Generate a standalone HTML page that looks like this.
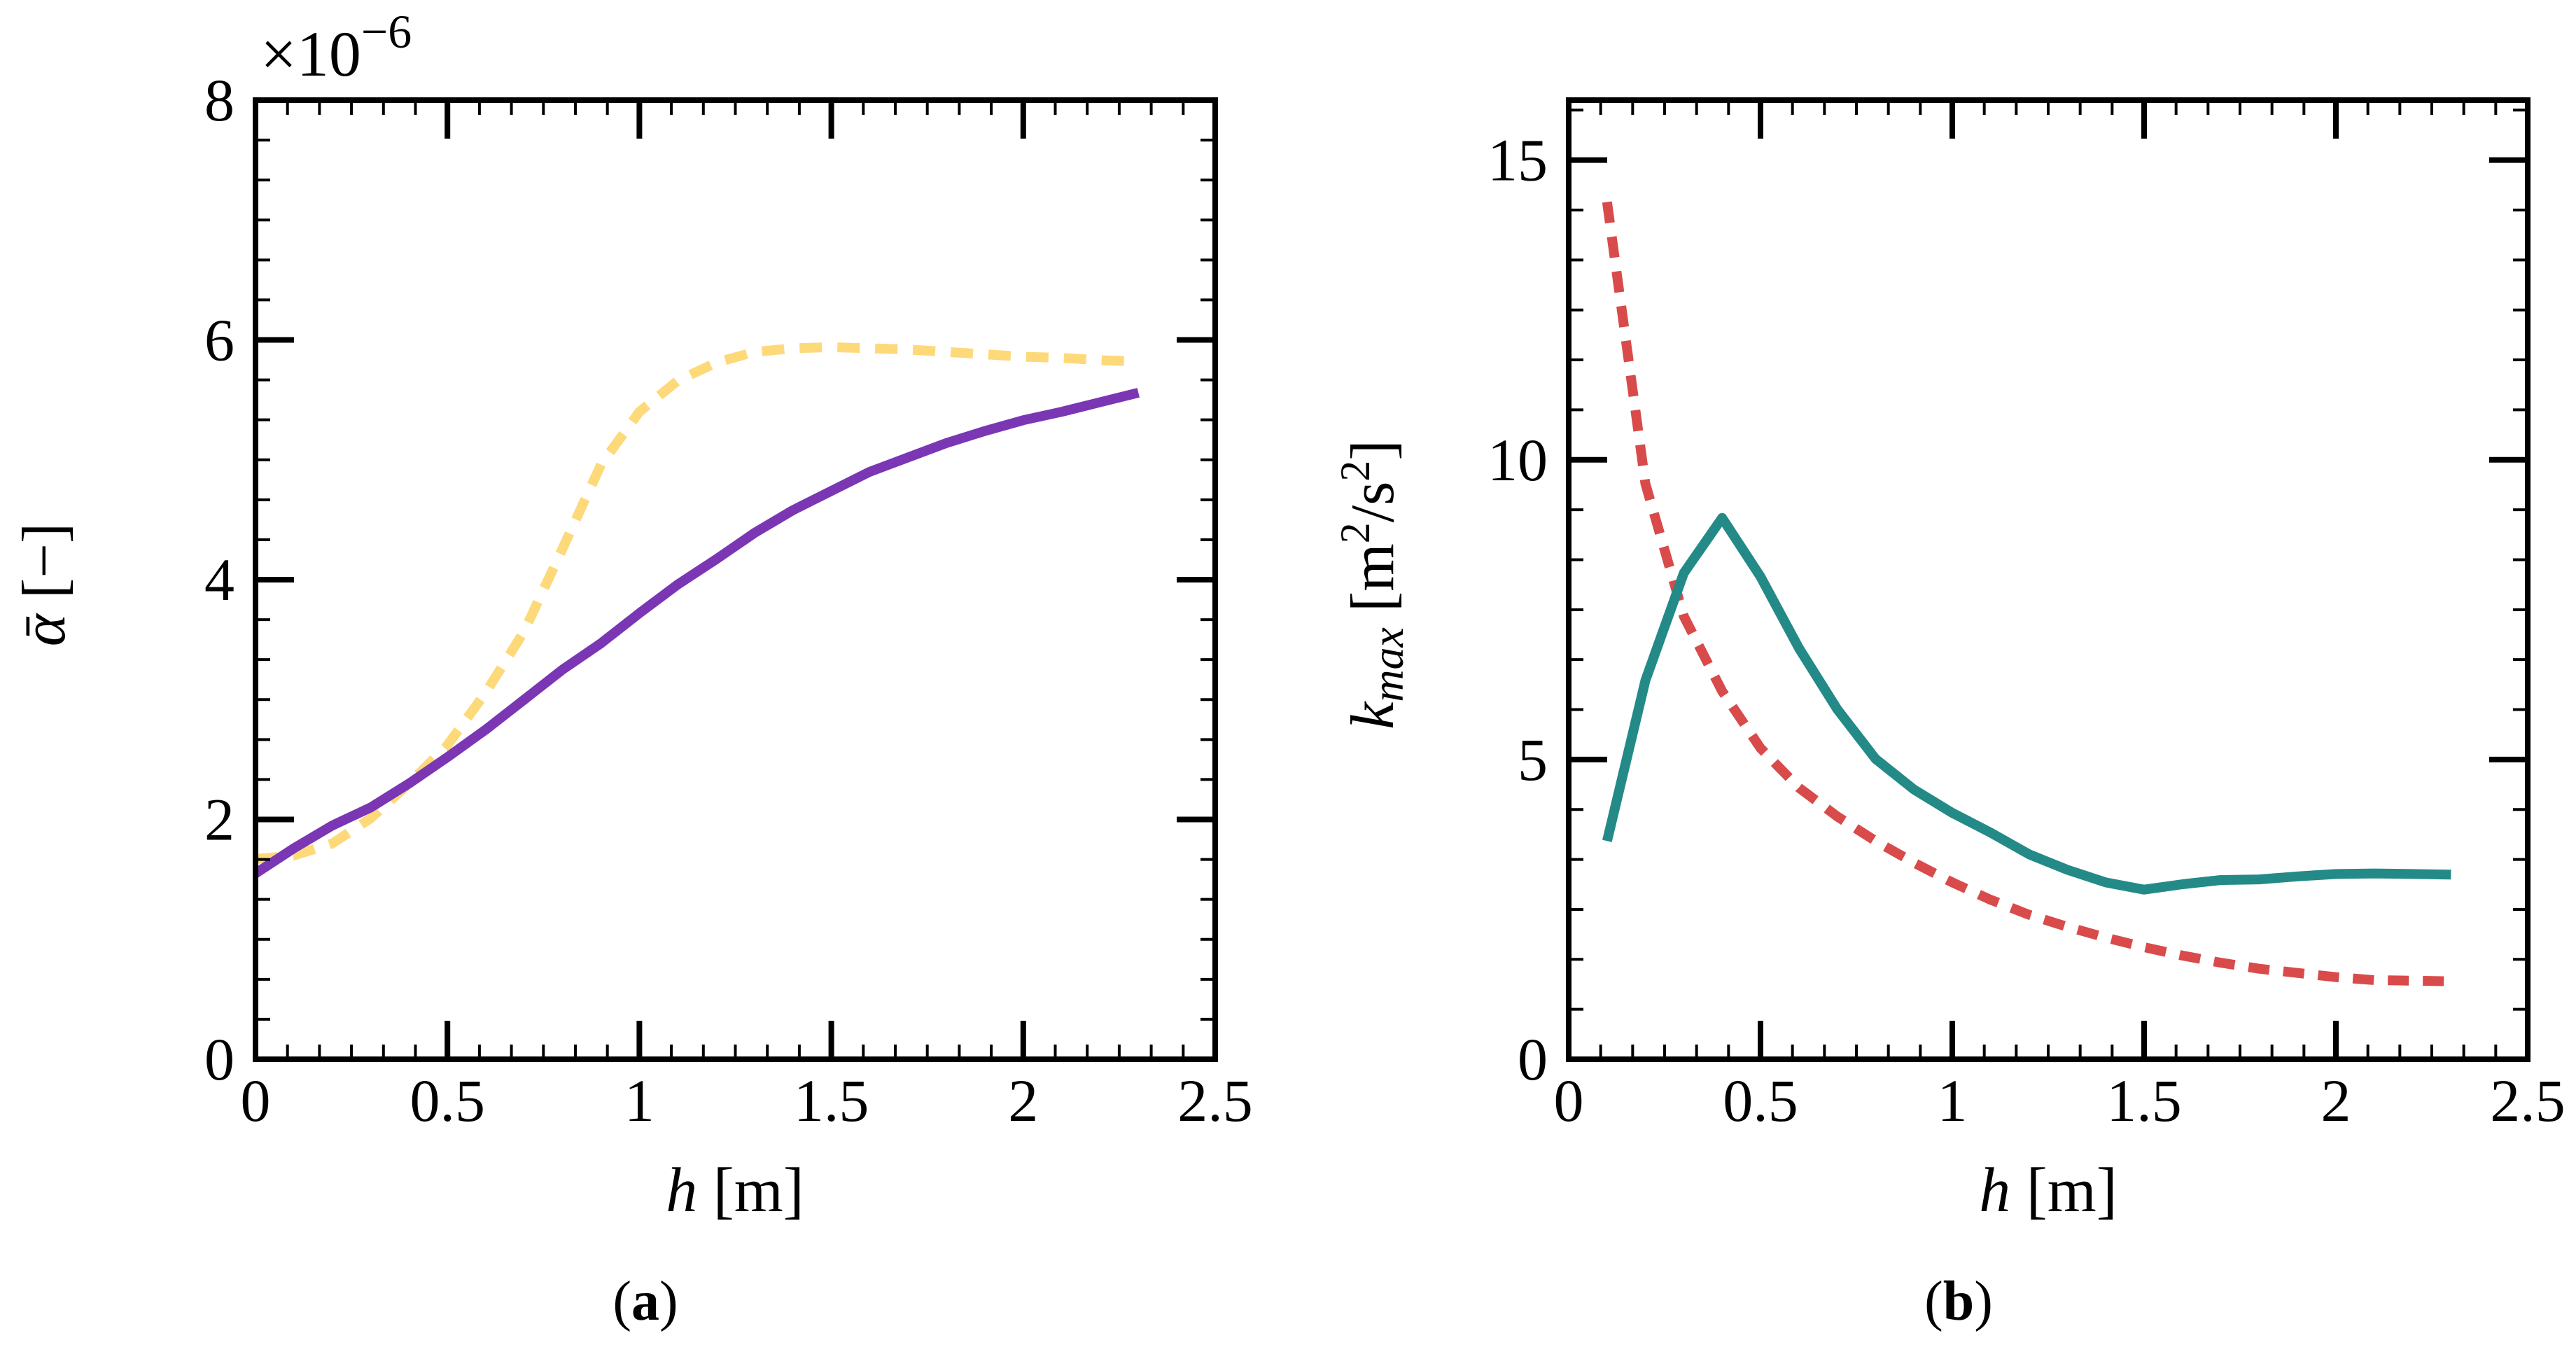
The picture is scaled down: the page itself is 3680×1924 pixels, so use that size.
<!DOCTYPE html>
<html><head><meta charset="utf-8"><style>
html,body{margin:0;padding:0;background:#fff;}
svg{display:block;}
text{font-family:"Liberation Serif",serif;fill:#000;}
</style></head><body>
<svg id="fig" width="3680" height="1924" viewBox="0 0 3680 1924" xmlns="http://www.w3.org/2000/svg">
<g id="pa"></g>
<g id="pb"></g>
<text x="372" y="108" font-size="92">×10<tspan font-size="68" dy="-40">−6</tspan></text>
<text transform="translate(92,835) rotate(-90)" text-anchor="middle" font-size="88"><tspan font-style="italic">ᾱ</tspan> [−]</text>
<text x="1050" y="1730" text-anchor="middle" font-size="90"><tspan font-style="italic">h</tspan> [m]</text>
<text x="922" y="1885" text-anchor="middle" font-size="80">(<tspan font-weight="bold">a</tspan>)</text>
<text transform="translate(1990,835) rotate(-90)" text-anchor="middle" font-size="88"><tspan font-style="italic">k<tspan font-size="64" dy="14">max</tspan></tspan><tspan dy="-14"> [m</tspan><tspan font-size="60" dy="-34">2</tspan><tspan dy="34">/s</tspan><tspan font-size="60" dy="-34">2</tspan><tspan dy="34">]</tspan></text>
<text x="2926" y="1730" text-anchor="middle" font-size="90"><tspan font-style="italic">h</tspan> [m]</text>
<text x="2798" y="1885" text-anchor="middle" font-size="80">(<tspan font-weight="bold">b</tspan>)</text>
</svg>
<script>
const xA = [0,0.1,0.2,0.3,0.4,0.5,0.6,0.7,0.8,0.9,1.0,1.1,1.2,1.3,1.4,1.5,1.6,1.7,1.8,1.9,2.0,2.1,2.2,2.3];
const alphaSolid = [1.55,1.76,1.95,2.10,2.30,2.52,2.75,3.0,3.25,3.47,3.72,3.96,4.17,4.39,4.58,4.74,4.90,5.02,5.14,5.24,5.33,5.40,5.48,5.56];
const alphaDashed = [1.67,1.70,1.80,2.01,2.30,2.62,3.06,3.57,4.26,4.96,5.40,5.66,5.81,5.90,5.93,5.94,5.93,5.92,5.90,5.88,5.86,5.85,5.83,5.82];
const xB = [0.1,0.2,0.3,0.4,0.5,0.6,0.7,0.8,0.9,1.0,1.1,1.2,1.3,1.4,1.5,1.6,1.7,1.8,1.9,2.0,2.1,2.2,2.3];
const kSolid = [3.64,6.32,8.11,9.03,8.05,6.86,5.84,5.01,4.50,4.11,3.78,3.42,3.16,2.95,2.83,2.92,2.99,3.00,3.05,3.09,3.10,3.09,3.08];
const kDotted = [14.3,9.6,7.39,6.14,5.19,4.53,4.05,3.64,3.28,2.95,2.66,2.41,2.21,2.03,1.87,1.73,1.61,1.51,1.44,1.37,1.32,1.31,1.30];
const xTicks = ["0","0.5","1","1.5","2","2.5"];
const yTicksA = ["0","2","4","6","8"];
const yTicksB = ["0","5","10","15"];

const NS = "http://www.w3.org/2000/svg";
function mk(parent, tag, attrs){const e=document.createElementNS(NS,tag);for(const k in attrs)e.setAttribute(k,attrs[k]);parent.appendChild(e);return e;}

function panel(g, L, R, T, B, xmax, ymax, xstep, ystep, yLabels, series){
  const sx = v => L + (v/xmax)*(R-L);
  const sy = v => B - (v/ymax)*(B-T);
  series.forEach(s=>{
    const d = s.x.map((xv,i)=>(i?"L":"M")+sx(xv).toFixed(1)+","+sy(s.y[i]).toFixed(1)).join(" ");
    const p = mk(g,"path",{d:d,fill:"none",stroke:s.color,"stroke-width":14,"stroke-linejoin":"round"});
    if(s.dash) p.setAttribute("stroke-dasharray",s.dash);
    
    
  });
  const minor = (step)=>step/6;
  for(let i=0;;i++){const v=i*minor(xstep); if(v>xmax+1e-9)break; const isMaj=i%6===0; const len=isMaj?55:21; const w=isMaj?8:4; const x=sx(v);
    const t1=mk(g,"line",{x1:x,x2:x,y1:B,y2:B-len,stroke:"#000","stroke-width":w});
    
    
    const t2=mk(g,"line",{x1:x,x2:x,y1:T,y2:T+len,stroke:"#000","stroke-width":w});
    
    
  }
  for(let i=0;;i++){const v=i*minor(ystep); if(v>ymax+1e-9)break; const isMaj=i%6===0; const len=isMaj?55:21; const w=isMaj?8:4; const y=sy(v);
    const t1=mk(g,"line",{x1:L,x2:L+len,y1:y,y2:y,stroke:"#000","stroke-width":w});
    
    
    const t2=mk(g,"line",{x1:R,x2:R-len,y1:y,y2:y,stroke:"#000","stroke-width":w});
    
    
  }
  const fr = mk(g,"rect",{x:L,y:T,width:R-L,height:B-T,fill:"none",stroke:"#000","stroke-width":8});
  
  
  xTicks.forEach((lab,i)=>{const t=mk(g,"text",{x:sx(i*xstep),y:1601,"text-anchor":"middle","font-size":86});t.textContent=lab;
    
    });
  yLabels.forEach((lab,i)=>{const t=mk(g,"text",{x:L-30,y:sy(i*ystep)+29,"text-anchor":"end","font-size":86});t.textContent=lab;
    
    });
}
panel(document.getElementById("pa"),365,1736,143,1513,2.5,8,0.5,2,yTicksA,[
  {x:xA,y:alphaDashed,color:"#fdd97a",dash:"32 22",name:"alpha-dashed-line"},
  {x:xA,y:alphaSolid,color:"#7b36b4",name:"alpha-solid-line"}]);
panel(document.getElementById("pb"),2241,3611,143,1513,2.5,16,0.5,5,yTicksB,[
  {x:xB,y:kDotted,color:"#d94a4a",dash:"30 20",name:"kmax-dotted-line"},
  {x:xB,y:kSolid,color:"#248a87",name:"kmax-solid-line"}]);
</script>
</body></html>
